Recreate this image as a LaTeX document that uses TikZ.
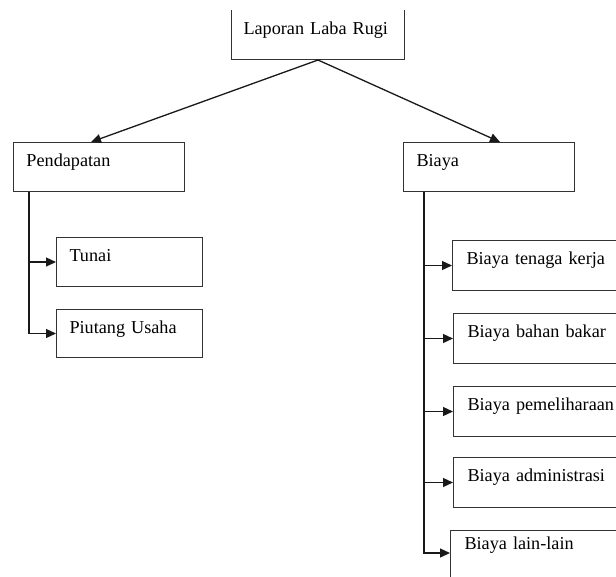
\documentclass[tikz,border=0pt]{standalone}
\usepackage{fontspec}
\setmainfont{Liberation Serif}
\usetikzlibrary{arrows.meta}

\begin{document}
\begin{tikzpicture}[x=1pt, y=-1pt,
kotak/.style={rectangle, draw=black!80, line width=1pt, anchor=north west, align=left, text width=#1, inner xsep=13pt, inner ysep=0pt, text height=24pt, text depth=25pt, font=\fontsize{18.2}{22}\selectfont},
kotak/.default=145pt,
panah/.style={-{Triangle[length=10pt,width=9pt]}, line width=1.3pt, draw=black!90},
]
\useasboundingbox (0,0) rectangle (616,576);
\clip (0,10) rectangle (616,576);

%Nodes
\node[kotak=149pt, inner xsep=12pt, text height=34pt] (laporan) at (231,0) {Laporan Laba Rugi};
\node[kotak]                  (pendapatan) at (13,142)  {Pendapatan};
\node[kotak=120pt]            (tunai)      at (56,237)  {Tunai};
\node[kotak=120pt, text depth=24pt] (piutang) at (56,309) {Piutang Usaha};
\node[kotak]                  (biaya)      at (403,142) {Biaya};
\node[kotak=170pt, inner xsep=14pt, text depth=26pt] (tenaga)   at (452,240) {Biaya tenaga kerja};
\node[kotak=170pt, inner xsep=14pt, text depth=26pt] (bahan)    at (453,313) {Biaya bahan bakar};
\node[kotak=170pt, inner xsep=14pt, text depth=26pt] (pelihara) at (453,386) {Biaya pemeliharaan};
\node[kotak=170pt, inner xsep=14pt, text depth=26pt] (admin)    at (453,457) {Biaya administrasi};
\node[kotak=170pt, inner xsep=14pt, text height=19pt, text depth=40pt] (lain) at (450,530) {Biaya lain-lain};

%Lines
\draw[panah] (laporan.south) -- ([xshift=-8pt]pendapatan.north);
\draw[panah] (laporan.south) -- ([xshift=11pt]biaya.north);
\draw[panah] ([xshift=16pt]pendapatan.south west) |- (tunai.west);
\draw[panah] ([xshift=16pt]pendapatan.south west) |- (piutang.west);
\foreach \k in {tenaga, bahan, pelihara, admin}
  \draw[panah] ([xshift=21pt]biaya.south west) |- (\k.west);
\draw[panah] ([xshift=21pt]biaya.south west) |- ([yshift=7pt]lain.west);
\end{tikzpicture}
\end{document}
